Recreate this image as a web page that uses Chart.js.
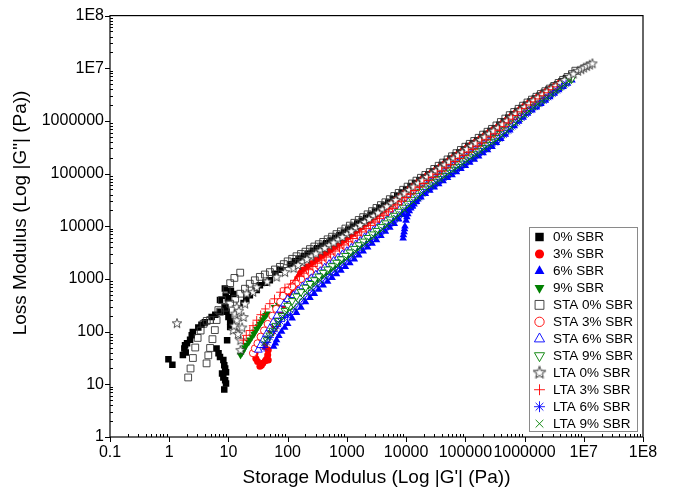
<!DOCTYPE html>
<html>
<head>
<meta charset="utf-8">
<script src="https://cdn.jsdelivr.net/npm/chart.js@4.4.1/dist/chart.umd.min.js"></script>
<style>
html,body{margin:0;padding:0;background:#fff;}
#wrap{position:relative;width:674px;height:495px;}
</style>
</head>
<body>
<div id="wrap"><canvas id="c" width="674" height="495"></canvas></div>
<script>
// ---------- data (G' , G'') ----------
const seriesNames = ['0% SBR','3% SBR','6% SBR','9% SBR','STA 0% SBR','STA 3% SBR','STA 6% SBR','STA 9% SBR','LTA 0% SBR','LTA 3% SBR','LTA 6% SBR','LTA 9% SBR'];
const xTickValues = [0.1,1,10,100,1000,10000,100000,1000000,1e7,1e8];
const xTickLabels = ['0.1','1','10','100','1000','10000','100000','1000000','1E7','1E8'];
const yTickValues = [1,10,100,1000,10000,100000,1000000,1e7,1e8];
const yTickLabels = ['1','10','100','1000','10000','100000','1000000','1E7','1E8'];

const sbr0 = [
[0.97,30],[1.13,23.5],[1.7,36],[1.8,48],[1.9,40],[1.85,55],[2.0,60],[2.25,70],[2.4,85],[2.5,98],[3.1,120],[3.5,135],[4.0,150],[5.2,190],[6.0,210],[7.3,235],
[8.7,660],[9.8,430],[8.7,295],[9.3,240],[10,190],[10.7,155],[10.7,123],[9.5,69],[6.3,48],[6.8,39],[7.2,33],[8.2,29],[8.5,23],[8.8,20],[9.1,17],[7.8,16],[8.2,13.5],[8.8,12],[9.1,10.4],[8.5,8],
[7.2,400],[9,480],[11,600],[12,520],[18,350],[20,420],[23,490],[30,620],[34,760],[42,850],[50,950],[62,1250],[75,1500],
[112,1910],[158,2440],[224,3040],[316,3850],[447,4790],[631,6050],[891,7660],[1259,9890],[1778,12800],[2512,16600],[3548,21900],[5012,28400],[7079,37500],[10000,49800],[14130,65900],[19950,85500],[28180,110000],[39810,146000],[56230,192000],[79430,252000],[112200,333000],[158500,430000],[223900,566000],[316200,729000],[446700,986000],[631000,1340000],[891300,1770000],[1259000,2340000],[1778000,3020000],[2512000,3900000],[3548000,4930000],[5012000,6500000]
];
const sbr0Mid = [[133,2160],[188,2720],[266,3420],[376,4290],[531,5380],[750,6810],[1059,8700],[1496,11300],[2113,14600],[2985,19100],[4217,24900],[5957,32600],[8414,43200],[11890,57300],[16790,75100],[23710,97000],[33500,127000],[47320,167000],[66830,220000],[94410,290000],[133400,378000],[188400,493000],[266100,642000],[375800,848000],[530900,1150000],[749900,1540000],[1059000,2040000],[1496000,2660000],[2113000,3430000],[2985000,4390000],[4217000,5660000]];

const sbr3 = [
[28,39],[29,31],[31,27],[34,22],[36,23],[38,25],[42,28],[44,30],[47,29],[46,36],[47,45],[41,52],[44,69],[50,90],[54,100],[58,115],[62,128],[66,143],[72,190],[78,250],[84,320],[91,395],[98,460],[105,520],[114,610],[124,710],[132,790],[140,880],[147,990],[155,1100],[165,1280],
[178,1470],[251,1950],[355,2570],[501,3310],[708,4290],[1000,5550],[1413,7530],[1995,10400],[2818,14300],[3981,19600],[5623,26500],[7943,36600],[11220,50100],[15850,67600],[22390,89900],[31620,116000],[44670,153000],[63100,202000],[89130,266000],[125900,351000],[177800,453000],[251200,597000],[354800,771000],[501200,1045000],[707900,1419000],[1000000,1892000],[1413000,2512000],[1995000,3243000],[2818000,4198000],[3981000,5321000]
];
const sbr3Mid = [[211,1690],[299,2240],[422,2920],[596,3770],[841,4880],[1189,6465],[1679,8849],[2371,12195],[3350,16741],[4732,22790],[6683,31143],[9441,42822],[13340,58197],[18840,77956],[26610,102120],[37580,133222],[53090,175801],[74990,231802],[105900,305559],[149600,398755],[211300,520043],[298500,678441],[421700,897600],[595700,1217700],[841400,1638500],[1189000,2180000],[1679000,2854000],[2371000,3690000],[3350000,4726000]];

const sbr6 = [
[58,52],[62,60],[65,69],[71,83],[79,100],[89,120],
[100,141],[141,229],[200,363],[282,525],[398,759],[562,1050],[794,1450],[1122,2000],[1585,2820],[2239,3980],[3162,5500],[4467,7940],[6310,11200],[8913,16600],[12590,24000],[17780,35500],[25120,47900],[35480,63100],[50120,83200],[70790,107000],[100000,141000],[141300,186000],[199500,245000],[281800,324000],[398100,457000],[562300,661000],[794300,977000],[1122000,1380000],[1585000,1820000],[2239000,2450000],[3162000,3310000],[4467000,4470000],[6310000,5890000],
[8900,5900],[9000,6800],[9250,7760],[9400,8900],[9550,10000],[10000,12900],[10300,15000],[10700,17000],[11300,19500],[12000,21900],[12800,24000],[13600,26300],[14700,29500],[15800,32400]
];
const sbr6Mid = [[119,180],[168,288],[238,437],[335,631],[473,893],[668,1234],[944,1703],[1334,2375],[1884,3350],[2661,4679],[3758,6608],[5309,9430],[7499,13635],[10590,19960],[14960,29189],[21130,41237],[29850,54977],[42170,72456],[59570,94353],[84140,122829],[118900,161944],[167900,213471],[237100,281745],[335000,384793],[473200,549609],[668300,803600],[944100,1161000],[1334000,1585000],[1884000,2112000],[2661000,2848000],[3758000,3846000],[5309000,5131000]];

const sbr9 = [
[16,36],[17,40],[18,45],[19,50],[20,56],[22,63],[23,70],[25,80],[27,90],[28,100],[30,112],[32,125],[34,140],[36,155],[38,170],[41,190],[43,205],[45,220],
[60,290],[70,323],[80,360],[95,393],[112,430],[158,560],[224,760],[316,1000],
[447,1320],[631,1780],[891,2400],[1259,3250],[1778,4490],[2512,6190],[3548,8450],[5012,11900],[7079,16500],[10000,23700],[14130,33500],[19950,47900],[28180,63800],[39810,84100],[56230,111000],[79430,144000],[112200,190000],[158500,248000],[223900,327000],[316200,430000],[446700,600000],[631000,851000],[891300,1220000],[1259000,1700000],[1778000,2230000],[2512000,2970000],[3548000,3940000],[5012000,5280000]
];
const sbr9Mid = [[133,491],[188,652],[266,872],[376,1149],[531,1533],[750,2067],[1059,2793],[1496,3820],[2113,5272],[2985,7232],[4217,10028],[5957,14013],[8414,19775],[11890,28177],[16790,40058],[23710,55281],[33500,73250],[47320,96620],[66830,126428],[94410,165408],[133400,217071],[188400,284774],[266100,374980],[375800,507937],[530900,714563],[749900,1018931],[1059000,1440139],[1496000,1947049],[2113000,2573558],[2985000,3420877],[4217000,4561000]];

const sta0 = [
[2.09,13.5],[2.29,20],[2.51,31.6],[2.75,50],[3.02,76],[3.39,105],[3.8,141],[4.3,160],[4.9,166],
[4.27,25],[4.57,35.5],[4.9,49],[5.37,72],[5.89,107],[6.31,166],[6.76,257],[7.76,398],[9.33,617],[10.7,832],[12.6,1047],[15.8,1318],
[7.24,240],[8.8,285],[10.7,339],[13,422],[15.8,525],[19,653],[22.9,813],[27.9,944],[33.9,1096],[41.2,1216],[50.1,1349],[61,1513],[74.1,1698],[86,1915],
[100,2160],[141,2700],[200,3300],[282,4130],[398,5060],[562,6350],[794,7980],[1122,10300],[1585,13200],[2239,16900],[3162,22300],[4467,28600],[6310,37600],[8913,49400],[12590,65000],[17780,83400],[25120,107000],[35480,141000],[50120,186000],[70790,245000],[100000,324000],[141300,417000],[199500,550000],[281800,708000],[398100,955000],[562300,1290000],[794300,1700000],[1122000,2240000],[1585000,2880000],[2239000,3670000],[3162000,4620000],[4467000,6030000],[6310000,7760000],[7200000,9000000]
];
const sta0Mid = [[119,2415],[168,2985],[238,3692],[335,4571],[473,5668],[668,7118],[944,9066],[1334,11660],[1884,14936],[2661,19413],[3758,25254],[5309,32793],[7499,43098],[10590,56665],[14960,73627],[21130,94465],[29850,122829],[42170,161944],[59570,213471],[84140,281745],[118900,367565],[167900,478905],[237100,624019],[335000,822277],[473200,1110000],[668300,1481000],[944100,1951000],[1334000,2540000],[1884000,3251000],[2661000,4118000],[3758000,5278000],[5309000,6841000]];

const sta3 = [
[26,39],[28,48],[31,60],[35,80],[40,105],[46,140],[55,200],[64,270],[75,370],[83,480],
[100,607],[141,855],[200,1180],[282,1580],[398,2090],[562,2740],[794,3600],[1122,4790],[1585,6430],[2239,8630],[3162,11600],[4467,15700],[6310,21400],[8913,29700],[12590,40800],[17780,56000],[25120,73600],[35480,97000],[50120,128000],[70790,167000],[100000,220000],[141300,286000],[199500,378000],[281800,491000],[398100,677000],[562300,942000],[794300,1310000],[1122000,1780000],[1585000,2310000],[2239000,3040000],[3162000,3950000],[4467000,5270000]
];
const sta3Mid = [[119,720],[168,1004],[238,1365],[335,1817],[473,2393],[668,3141],[944,4153],[1334,5550],[1884,7449],[2661,10005],[3758,13495],[5309,18330],[7499,25211],[10590,34811],[14960,47800],[21130,64200],[29850,84493],[42170,111427],[59570,146206],[84140,191677],[118900,250839],[167900,328798],[237100,430813],[335000,576546],[473200,798575],[668300,1111000],[944100,1527000],[1334000,2028000],[1884000,2650000],[2661000,3465000],[3758000,4562000]];

const sta6 = [
[32,45],[35,55],[39,70],[44,90],[50,115],[57,150],[66,200],[76,260],[88,340],[100,410],
[126,490],[178,718],[251,1030],[355,1410],[501,1910],[708,2540],[1000,3370],[1413,4530],[1995,6170],[2818,8400],[3981,11400],[5623,15700],[7943,21600],[11220,30500],[15850,42500],[22390,59400],[31620,78700],[44670,104000],[63100,137000],[89130,178000],[125900,234000],[177800,306000],[251200,404000],[354800,527000],[501200,731000],[707900,1030000],[1000000,1450000],[1413000,2000000],[1995000,2610000],[2818000,3450000],[3981000,4530000]
];
const sta6Mid = [[150,593],[211,860],[299,1205],[422,1641],[596,2203],[841,2926],[1189,3907],[1679,5287],[2371,7199],[3350,9786],[4732,13378],[6683,18415],[9441,25667],[13340,36004],[18840,50245],[26610,68372],[37580,90470],[53090,119365],[74990,156154],[105900,204088],[149600,267589],[211300,351610],[298500,461426],[421700,620665],[595700,867700],[841400,1222000],[1189000,1703000],[1679000,2285000],[2371000,3001000],[3350000,3953000]];

const sta9 = [
[45,69],[50,85],[56,105],[63,130],[70,160],[80,200],[90,250],
[100,313],[141,470],[200,690],[282,957],[398,1320],[562,1770],[794,2380],[1122,3210],[1585,4420],[2239,6070],[3162,8260],[4467,11500],[6310,16000],[8913,22800],[12590,32100],[17780,45500],[25120,60500],[35480,79800],[50120,105000],[70790,136000],[100000,180000],[141300,236000],[199500,310000],[281800,406000],[398100,566000],[562300,802000],[794300,1150000],[1122000,1580000],[1585000,2070000],[2239000,2760000],[3162000,3650000],[4467000,4890000],[6310000,6400000]
];
const sta9Mid = [[119,384],[168,569],[238,813],[335,1124],[473,1529],[668,2052],[944,2764],[1334,3767],[1884,5180],[2661,7081],[3758,9746],[5309,13565],[7499,19100],[10590,27053],[14960,38217],[21130,52467],[29850,69483],[42170,91536],[59570,119499],[84140,156460],[118900,206107],[167900,270481],[237100,354767],[335000,479370],[473200,673758],[668300,960365],[944100,1348000],[1334000,1808000],[1884000,2390000],[2661000,3174000],[3758000,4225000],[5309000,5594000]];

const lta0 = [
[1.35,145],[12,107],[16,69],[16,45],[13.8,165],[13,220],[13.8,295],[18,190],[20.3,530],[26,570],[19,340],[12.5,130],[14.5,90],[17,120],[15,250],
[30,700],[45,900],[65,1100],[90,1350],
[126,1610],[178,2110],[251,2700],[355,3460],[501,4370],[708,5570],[1000,7110],[1413,9260],[1995,12100],[2818,15800],[3981,21000],[5623,27500],[7943,36600],[11220,49100],[15850,65600],[22390,86300],[31620,112000],[44670,148000],[63100,195000],[89130,256000],[125900,337000],[177800,436000],[251200,574000],[354800,742000],[501200,1010000],[707900,1370000],[1000000,1840000],[1413000,2450000],[1995000,3170000],[2818000,4120000],[3981000,5240000],[5623000,6930000],[7943000,8950000],[9000000,9600000],[10000000,10300000],[11200000,11000000],[12600000,11700000],[14000000,12400000]
];
const lta0Mid = [[150,1843],[211,2387],[299,3056],[422,3888],[596,4934],[841,6293],[1189,8114],[1679,10585],[2371,13827],[3350,18215],[4732,24031],[6683,31725],[9441,42392],[13340,56753],[18840,75241],[26610,98315],[37580,128748],[53090,169883],[74990,223428],[105900,293721],[149600,383318],[211300,500263],[298500,652616],[421700,865700],[595700,1176000],[841400,1588000],[1189000,2123000],[1679000,2787000],[2371000,3614000],[3350000,4646000],[4732000,6026000],[6683000,7876000]];

const lta3 = [
[18,69],[20,85],[23,105],[26,130],[30,165],[35,210],[42,270],[50,340],[60,420],[75,560],[90,680],
[112,800],[158,1110],[224,1500],[316,1990],[447,2610],[631,3400],[891,4430],[1259,5860],[1778,7820],[2512,10400],[3548,14000],[5012,18800],[7079,25500],[10000,35100],[14130,47900],[19950,65000],[28180,85300],[39810,112000],[56230,148000],[79430,194000],[112200,255000],[158500,332000],[223900,438000],[316200,569000],[446700,780000],[631000,1080000],[891300,1490000],[1259000,2010000],[1778000,2620000],[2512000,3430000],[3548000,4440000]
];
const lta3Mid = [[133,942],[188,1290],[266,1728],[376,2279],[531,2979],[750,3881],[1059,5095],[1496,6769],[2113,9018],[2985,12067],[4217,16224],[5957,21896],[8414,29918],[11890,41003],[16790,55798],[23710,74462],[33500,97741],[47320,128748],[66830,169448],[94410,222419],[133400,290957],[188400,381340],[266100,499224],[375800,666198],[530900,917824],[749900,1269000],[1059000,1731000],[1496000,2295000],[2113000,2998000],[2985000,3902000]];

const lta6 = [
[40,50],[45,62],[50,78],[58,100],[66,125],[76,155],[88,185],[100,200],
[112,213],[158,335],[224,515],[316,731],[447,1040],[631,1420],[891,1930],[1259,2650],[1778,3700],[2512,5160],[3548,7100],[5012,10100],[7079,14200],[10000,20700],[14130,29500],[19950,43000],[28180,57700],[39810,76000],[56230,100000],[79430,129000],[112200,171000],[158500,224000],[223900,296000],[316200,389000],[446700,546000],[631000,783000],[891300,1140000],[1259000,1600000],[1778000,2100000],[2512000,2820000],[3548000,3780000],[5012000,5080000]
];
const lta6Mid = [[133,267],[188,415],[266,614],[376,872],[531,1215],[750,1655],[1059,2262],[1496,3131],[2113,4369],[2985,6053],[4217,8468],[5957,11976],[8414,17145],[11890,24711],[16790,35616],[23710,49811],[33500,66221],[47320,87178],[66830,113578],[94410,148523],[133400,195714],[188400,257500],[266100,339335],[375800,460859],[530900,653845],[749900,944800],[1059000,1351000],[1496000,1833000],[2113000,2434000],[2985000,3265000],[4217000,4382000]];

const lta9 = [
[40,60],[46,75],[52,95],[60,120],[70,150],[82,185],[95,230],[110,260],
[126,288],[178,445],[251,670],[355,942],[501,1320],[708,1790],[1000,2420],[1413,3300],[1995,4570],[2818,6340],[3981,8670],[5623,12200],[7943,17100],[11220,24700],[15850,35000],[22390,50400],[31620,67300],[44670,88700],[63100,117000],[89130,151000],[125900,200000],[177800,262000],[251200,345000],[354800,453000],[501200,634000],[707900,904000],[1000000,1310000],[1413000,1820000],[1995000,2390000],[2818000,3190000],[3981000,4250000],[5623000,5700000]
];
const lta9Mid = [[150,358],[211,546],[299,794],[422,1115],[596,1537],[841,2081],[1189,2826],[1679,3883],[2371,5383],[3350,7414],[4732,10285],[6683,14444],[9441,20552],[13340,29402],[18840,42000],[26610,58240],[37580,77263],[53090,101872],[74990,132917],[105900,173781],[149600,228910],[211300,300649],[298500,395335],[421700,535912],[595700,757000],[841400,1088000],[1189000,1544000],[1679000,2086000],[2371000,2761000],[3350000,3682000],[4732000,4922000]];

const seriesData = [
  sbr0.concat(sbr0Mid), sbr3.concat(sbr3Mid), sbr6.concat(sbr6Mid), sbr9.concat(sbr9Mid),
  sta0.concat(sta0Mid), sta3.concat(sta3Mid), sta6.concat(sta6Mid), sta9.concat(sta9Mid),
  lta0.concat(lta0Mid), lta3.concat(lta3Mid), lta6.concat(lta6Mid), lta9.concat(lta9Mid)
];

// ---------- styles ----------
function makeStar(color, fill){
  const cv=document.createElement('canvas'); cv.width=12; cv.height=12;
  const g=cv.getContext('2d'); g.strokeStyle=color; g.lineWidth=0.8;
  g.beginPath();
  for(let k=0;k<10;k++){
    const r=(k%2===0)?5:2.1; const a=-Math.PI/2+k*Math.PI/5;
    const px=6+r*Math.cos(a), py=6.4+r*Math.sin(a);
    if(k===0) g.moveTo(px,py); else g.lineTo(px,py);
  }
  g.closePath();
  if(fill){ g.fillStyle=fill; g.fill(); }
  g.stroke();
  return cv;
}
const starImg = makeStar('#222', '#ffffff');
const GREEN='#008000';
const WHITE='#ffffff';
const NONE='rgba(0,0,0,0)';
const styles = [
  {ps:'rect', r:4.6, rot:0, fill:'#000', stroke:'#000', bw:0},
  {ps:'circle', r:3.5, rot:0, fill:'#ff0000', stroke:'#ff0000', bw:0},
  {ps:'triangle', r:4.4, rot:0, fill:'#0000ff', stroke:'#0000ff', bw:0},
  {ps:'triangle', r:4.4, rot:180, fill:GREEN, stroke:GREEN, bw:0},
  {ps:'rect', r:4.8, rot:0, fill:NONE, stroke:'#333', bw:0.9},
  {ps:'circle', r:3.6, rot:0, fill:WHITE, stroke:'#ff0000', bw:0.9},
  {ps:'triangle', r:4.5, rot:0, fill:WHITE, stroke:'#0000ff', bw:0.9},
  {ps:'triangle', r:4.5, rot:180, fill:WHITE, stroke:GREEN, bw:0.9},
  {ps:starImg, r:5, rot:0, fill:WHITE, stroke:'#222', bw:0.8},
  {ps:'cross', r:4.2, rot:0, fill:NONE, stroke:'#ff0000', bw:0.9},
  {ps:'star', r:4.2, rot:0, fill:NONE, stroke:'#0000ff', bw:0.9},
  {ps:'crossRot', r:4.2, rot:0, fill:NONE, stroke:GREEN, bw:0.9}
];

const datasets = seriesData.map((arr,i)=>({
  label: seriesNames[i],
  data: arr.map(p=>({x:p[0], y:p[1]})),
  pointStyle: styles[i].ps,
  pointRadius: styles[i].r,
  pointRotation: styles[i].rot,
  backgroundColor: styles[i].fill,
  borderColor: styles[i].stroke,
  borderWidth: styles[i].bw,
  pointHoverRadius: styles[i].r,
  showLine: false,
  order: seriesNames.length - i
}));

const FONT = '"Liberation Sans", Arial, Helvetica, sans-serif';

function drawMarker(ctx, st, x, y, scale){
  ctx.save();
  ctx.fillStyle = st.fill; ctx.strokeStyle = st.stroke; ctx.lineWidth = st.bw || 1;
  const r = st.r*scale;
  ctx.translate(x,y);
  if(st.ps === starImg){ ctx.scale(scale,scale); ctx.drawImage(starImg,-6,-6.4); ctx.restore(); return; }
  if(st.rot) ctx.rotate(st.rot*Math.PI/180);
  ctx.beginPath();
  if(st.ps==='rect'){ const s=Math.SQRT1_2*r; ctx.rect(-s,-s,2*s,2*s); }
  else if(st.ps==='circle'){ ctx.arc(0,0,r,0,Math.PI*2); }
  else if(st.ps==='triangle'){ ctx.moveTo(0,-r); ctx.lineTo(r*0.866,r*0.525); ctx.lineTo(-r*0.866,r*0.525); ctx.closePath(); }
  else if(st.ps==='cross'){ ctx.moveTo(0,-r); ctx.lineTo(0,r); ctx.moveTo(-r,0); ctx.lineTo(r,0); }
  else if(st.ps==='crossRot'){ const d=r*0.7071; ctx.moveTo(-d,-d); ctx.lineTo(d,d); ctx.moveTo(-d,d); ctx.lineTo(d,-d); }
  else if(st.ps==='star'){ const d=r*0.7071; ctx.moveTo(0,-r); ctx.lineTo(0,r); ctx.moveTo(-r,0); ctx.lineTo(r,0); ctx.moveTo(-d,-d); ctx.lineTo(d,d); ctx.moveTo(-d,d); ctx.lineTo(d,-d); }
  if(st.bw===0){ ctx.fill(); } else { if(st.ps==='rect'||st.ps==='circle'||st.ps==='triangle'){ ctx.fill(); } ctx.stroke(); }
  ctx.restore();
}

const framePlugin = {
  id:'frame',
  afterDraw(chart){
    const ctx = chart.ctx; const a = chart.chartArea;
    const xs = chart.scales.x, ys = chart.scales.y;
    ctx.save();
    ctx.strokeStyle = '#000'; ctx.lineWidth = 1.2;
    ctx.strokeRect(a.left, a.top, a.right-a.left, a.bottom-a.top);
    ctx.lineWidth = 1;
    ctx.beginPath();
    for(let d=-1; d<8; d++){
      const base = Math.pow(10,d);
      const px = Math.round(xs.getPixelForValue(base))+0.5;
      ctx.moveTo(px, a.bottom); ctx.lineTo(px, a.bottom+5);
      for(let m=2;m<10;m++){
        const q = Math.round(xs.getPixelForValue(m*base))+0.5;
        ctx.moveTo(q, a.bottom); ctx.lineTo(q, a.bottom-3);
      }
    }
    const pxe = Math.round(xs.getPixelForValue(1e8))+0.5;
    ctx.moveTo(pxe, a.bottom); ctx.lineTo(pxe, a.bottom+5);
    for(let d=0; d<8; d++){
      const base = Math.pow(10,d);
      const py = Math.round(ys.getPixelForValue(base))+0.5;
      ctx.moveTo(a.left, py); ctx.lineTo(a.left-5, py);
      for(let m=2;m<10;m++){
        const q = Math.round(ys.getPixelForValue(m*base))+0.5;
        ctx.moveTo(a.left, q); ctx.lineTo(a.left+3, q);
      }
    }
    const pye = Math.round(ys.getPixelForValue(1e8))+0.5;
    ctx.moveTo(a.left, pye); ctx.lineTo(a.left-5, pye);
    ctx.stroke();

    ctx.fillStyle = '#000';
    ctx.font = '19px ' + FONT;
    ctx.textAlign = 'center'; ctx.textBaseline = 'middle';
    ctx.fillText("Storage Modulus (Log |G'| (Pa))", (a.left+a.right)/2, 478);
    ctx.save();
    ctx.translate(21, 213);
    ctx.rotate(-Math.PI/2);
    ctx.fillText('Loss Modulus (Log |G"| (Pa))', 0, 0);
    ctx.restore();

    const lx = 529.5, ly = 227.5, lw = 108, lh = 204;
    ctx.fillStyle = '#fff'; ctx.fillRect(lx, ly, lw, lh);
    ctx.strokeStyle = '#8a8a8a'; ctx.lineWidth = 1; ctx.strokeRect(lx, ly, lw, lh);
    ctx.font = '13.5px ' + FONT; ctx.textAlign = 'left';
    for(let i=0;i<seriesNames.length;i++){
      const yy = 237 + i*16.97;
      const st = (i===4) ? Object.assign({}, styles[i], {fill: WHITE}) : styles[i];
      drawMarker(ctx, st, 539.5, yy, 1.3);
      ctx.fillStyle = '#000';
      ctx.fillText(seriesNames[i], 553, yy+0.5);
    }
    ctx.restore();
  }
};

new Chart(document.getElementById('c'), {
  type: 'scatter',
  data: { datasets },
  options: {
    responsive: false,
    devicePixelRatio: 1,
    animation: false,
    events: [],
    layout: { padding: { left: 0, right: 31, top: 15, bottom: 0 } },
    plugins: { legend: { display: false }, tooltip: { enabled: false } },
    scales: {
      x: {
        type: 'logarithmic', min: 0.1, max: 1e8,
        grid: { display: false, drawTicks: false }, border: { display: false },
        afterBuildTicks: (s) => { s.ticks = xTickValues.map(v => ({ value: v })); },
        afterFit: (s) => { s.height = 58; },
        ticks: {
          autoSkip: false, maxRotation: 0, minRotation: 0, padding: 6,
          color: '#000', font: { size: 16, family: FONT },
          callback: (v) => { const k = xTickValues.indexOf(v); return k >= 0 ? xTickLabels[k] : ''; }
        }
      },
      y: {
        type: 'logarithmic', min: 1, max: 1e8,
        grid: { display: false, drawTicks: false }, border: { display: false },
        afterBuildTicks: (s) => { s.ticks = yTickValues.map(v => ({ value: v })); },
        afterFit: (s) => { s.width = 110; },
        ticks: {
          autoSkip: false, padding: 6,
          color: '#000', font: { size: 16, family: FONT },
          callback: (v) => { const k = yTickValues.indexOf(v); return k >= 0 ? yTickLabels[k] : ''; }
        }
      }
    }
  },
  plugins: [framePlugin]
});
</script>
</body>
</html>
